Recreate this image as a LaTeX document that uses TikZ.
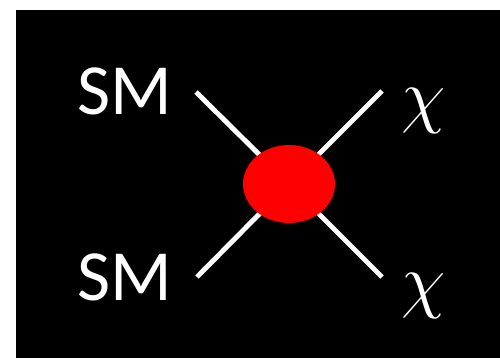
\RequirePackage{fix-cm}
\documentclass[tikz,border=0pt]{standalone}
\usepackage{fontspec}
\setmainfont{Carlito}
\usetikzlibrary{shapes.geometric}

\begin{document}
\begin{tikzpicture}[x=0.02cm, y=-0.02cm,
  lbl/.style={text=white, inner sep=0pt, font=\fontsize{41}{48}\selectfont},
  blob/.style={ellipse, fill=red, minimum width=92*0.02cm, minimum height=78*0.02cm, inner sep=0pt},
  leg/.style={draw=white, line width=2.8pt}]

%% ---- frame ----
\useasboundingbox (0,0) rectangle (500,358);
\fill[black] (16,10) rectangle (500,358);

%% ---- leg ends ----
\coordinate (C)  at (289,184);
\coordinate (TL) at (196,92);
\coordinate (BL) at (197,277);
\coordinate (TR) at (382,91);
\coordinate (BR) at (382,277);

%% ---- labels ----
\node[lbl] (SMA) at (124.5,91)    {SM};
\node[lbl] (SMB) at (124.5,277.5) {SM};
\node[lbl] (CHA) at (423.5,110.5) {$\chi$};
\node[lbl] (CHB) at (423.5,296)   {$\chi$};

%% ---- legs, then the vertex on top ----
\draw[leg] (TL) -- (C);
\draw[leg] (BL) -- (C);
\draw[leg] (TR) -- (C);
\draw[leg] (BR) -- (C);
\node[blob] (V) at (C) {};
\end{tikzpicture}
\end{document}
